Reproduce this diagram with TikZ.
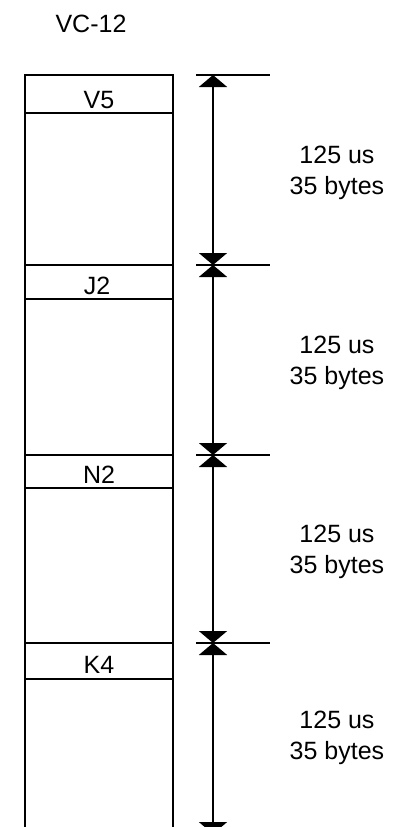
\documentclass[tikz,border=0pt]{standalone}
\usepackage{fontspec}
\setmainfont{Liberation Sans}
\usetikzlibrary{arrows.meta}
\begin{document}
\begin{tikzpicture}[x=1bp,y=-1bp,
  col/.style={line width=2.2bp},
  tickline/.style={line width=2bp},
  dimline/.style={line width=2bp, {Triangle[width=28bp,length=12bp]}-{Triangle[width=28bp,length=12bp]}},
  lbl/.style={font=\fontsize{25bp}{31bp}\selectfont, inner sep=0pt},
  seglbl/.style={lbl, align=center}]
\clip (0,0) rectangle (403,827);
% title
\node[lbl, anchor=base] (title) at (91,32) {VC-12};
% column
\draw[col] (25,827) -- (25,75) -- (173,75) -- (173,827);
\draw[col] (25,113) -- (173,113);
\draw[col] (25,265) -- (173,265);
\draw[col] (25,299) -- (173,299);
\draw[col] (25,455) -- (173,455);
\draw[col] (25,488) -- (173,488);
\draw[col] (25,643) -- (173,643);
\draw[col] (25,679) -- (173,679);
% field labels
\node[lbl, anchor=base] (v5) at (99,108) {V5};
\node[lbl, anchor=base] (j2) at (97,294) {J2};
\node[lbl, anchor=base] (n2) at (99,483) {N2};
\node[lbl, anchor=base] (k4) at (99,673) {K4};
% ticks
\coordinate (t0) at (213,75);
\coordinate (t1) at (213,265);
\coordinate (t2) at (213,455);
\coordinate (t3) at (213,643);
\coordinate (t4) at (213,834);
\foreach \y in {75,265,455,643}{
  \draw[tickline] (196,\y) -- (270,\y);
}
% dimension arrows
\draw[dimline] (t0) -- (t1);
\draw[dimline] (t1) -- (t2);
\draw[dimline] (t2) -- (t3);
\draw[dimline] (t3) -- (t4);
% segment labels
\node[seglbl] (s1) at (337,173) {125 us\\35 bytes};
\node[seglbl] (s2) at (337,363) {125 us\\35 bytes};
\node[seglbl] (s3) at (337,552) {125 us\\35 bytes};
\node[seglbl] (s4) at (337,738) {125 us\\35 bytes};
\end{tikzpicture}
\end{document}
